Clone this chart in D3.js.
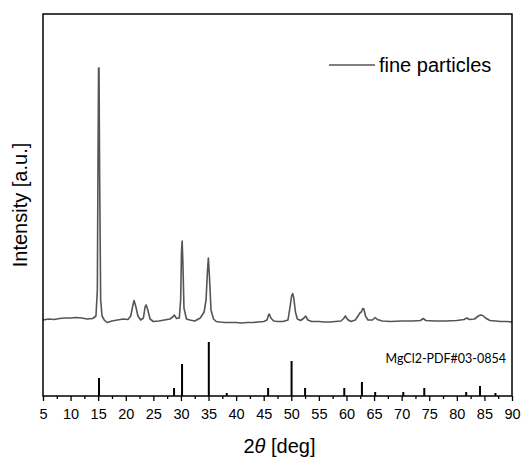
<!DOCTYPE html>
<html lang="en">
<head>
<meta charset="UTF-8">
<script src="https://cdn.jsdelivr.net/npm/d3@7"></script>
<title>XRD pattern</title>
<style>
  body { margin: 0; background: #fff; }
  svg { display: block; font-family: "Liberation Sans", Arial, sans-serif; }
</style>
</head>
<body>
<script>
// measured pattern (2theta, intensity in a.u.)
const patternTheta = [5, 6, 7, 8, 9, 10, 11, 12, 13, 14, 14.6, 14.85, 14.98, 15.07, 15.15, 15.27, 15.45, 15.7, 16.1, 16.6,
  17.5, 18.5, 19.5, 20.4, 20.9, 21.3, 21.5, 21.8, 22.2, 22.7, 23.2, 23.5, 23.7, 24.0, 24.4, 25, 26, 27, 28, 28.5,
  28.8, 29.2, 29.7, 29.95, 30.1, 30.22, 30.35, 30.55, 31, 31.6, 32.5, 33.5, 34.2, 34.55, 34.8, 34.97, 35.15, 35.45, 35.9, 36.4,
  37, 38, 39, 40, 41, 42, 43, 44, 45, 45.6, 45.85, 46.0, 46.3, 46.8, 47.5, 48.5, 49.4, 49.8, 50.05, 50.25,
  50.45, 50.75, 51.1, 51.7, 52.3, 52.6, 53.0, 53.7, 55, 56, 57, 58, 59, 59.5, 59.8, 60.2, 60.8, 61.6, 62.2, 62.5,
  62.7, 62.95, 63.15, 63.45, 63.9, 64.7, 65.2, 65.6, 66.5, 68, 70, 72, 73.4, 73.9, 74.4, 76, 78, 80, 81.3, 81.8,
  82.3, 83.2, 83.9, 84.3, 84.7, 85.2, 86, 87, 88, 89, 90];
const patternCounts = [76, 77, 76.5, 77.5, 78, 78, 78.5, 78, 77, 77.5, 80, 106, 246, 328, 328, 216, 96, 80, 76, 73.5,
  75, 76, 77, 76.5, 80, 91, 95.5, 90, 80, 76, 78, 89, 91, 86, 77, 74.5, 75, 76, 77, 79,
  81, 77.5, 78, 96, 144, 155, 134, 88, 77, 76, 75, 78, 84, 96, 124, 138, 121, 86, 77, 74.5,
  74, 73.5, 73.5, 73.5, 73, 73.5, 73.5, 74, 74.5, 76, 80.5, 82, 78, 75, 74.5, 74.5, 76, 90, 100, 102.5,
  98, 84, 77, 75.5, 78, 80, 76, 74.5, 74.5, 74, 74, 74.5, 75, 77.5, 80, 76.5, 74.5, 76, 81, 83.5,
  84, 87.5, 87, 80, 76, 76, 78.5, 76.5, 75, 74.5, 75, 75, 75.5, 77.5, 75.5, 75, 75, 75.5, 76.5, 78,
  76.5, 77, 80, 81, 80.5, 78, 75.5, 75, 74.5, 74.5, 74];

// MgCl2 reference lines
const refTheta = [15.15, 28.75, 30.2, 35.05, 38.3, 45.8, 50.05, 52.5, 59.6, 62.8, 65.2, 70.3, 74.1, 81.7, 84.2, 87.0];
const refIntensity = [18, 8, 32, 54, 3, 8, 35, 8, 8, 14, 4, 4, 8, 4, 10, 3];

const xTicks = [5, 10, 15, 20, 25, 30, 35, 40, 45, 50, 55, 60, 65, 70, 75, 80, 85, 90];

const W = 528, H = 457;
const m = { l: 43, r: 512, t: 14, b: 396 };

const svg = d3.select('body').append('svg')
  .attr('width', W)
  .attr('height', H);

const x = d3.scaleLinear().domain([5, 90]).range([m.l, m.r]);
const y = d3.scaleLinear().domain([0, 382]).range([m.b, m.t]);

// pattern line
const pts = patternTheta.map((t, i) => [t, patternCounts[i]]);
svg.append('path')
  .datum(pts)
  .attr('fill', 'none')
  .attr('stroke', '#555')
  .attr('stroke-width', 1.6)
  .attr('stroke-linejoin', 'round')
  .attr('d', d3.line().x(d => x(d[0])).y(d => y(d[1])));

// reference sticks
svg.selectAll('.stick')
  .data(refTheta)
  .enter()
  .append('line')
  .attr('class', 'stick')
  .attr('x1', d => x(d))
  .attr('x2', d => x(d))
  .attr('y1', y(0))
  .attr('y2', (d, i) => y(refIntensity[i]))
  .attr('stroke', '#000')
  .attr('stroke-width', 2);

// frame
svg.append('rect')
  .attr('x', m.l)
  .attr('y', m.t)
  .attr('width', m.r - m.l)
  .attr('height', m.b - m.t)
  .attr('fill', 'none')
  .attr('stroke', '#000')
  .attr('stroke-width', 1.5);

// x axis: minor ticks then major ticks with labels
const minor = xTicks.slice(0, -1).map(v => v + 2.5);
svg.append('g')
  .attr('transform', `translate(0,${m.b})`)
  .call(d3.axisBottom(x).tickValues(minor).tickSize(3).tickFormat(''))
  .call(g => g.select('.domain').remove())
  .call(g => g.selectAll('line').attr('stroke-width', 1.3));

svg.append('g')
  .attr('transform', `translate(0,${m.b})`)
  .call(d3.axisBottom(x).tickValues(xTicks).tickSize(5).tickPadding(8))
  .call(g => g.select('.domain').remove())
  .call(g => g.selectAll('line').attr('stroke-width', 1.3))
  .call(g => g.selectAll('text')
    .attr('font-size', 14.5)
    .attr('font-family', '"Liberation Sans", Arial, sans-serif')
    .attr('fill', '#000'));

// axis titles
const xt = svg.append('text')
  .attr('x', (m.l + m.r) / 2 + 2)
  .attr('y', 453)
  .attr('text-anchor', 'middle')
  .attr('font-size', 20)
  .attr('fill', '#000');
xt.append('tspan').text('2');
xt.append('tspan').attr('font-style', 'italic').text('θ');
xt.append('tspan').text(' [deg]');

svg.append('text')
  .attr('transform', `translate(27,${(m.t + m.b) / 2}) rotate(-90)`)
  .attr('text-anchor', 'middle')
  .attr('font-size', 20)
  .attr('fill', '#000')
  .text('Intensity [a.u.]');

// legend
svg.append('line')
  .attr('x1', 329).attr('x2', 375)
  .attr('y1', 65).attr('y2', 65)
  .attr('stroke', '#555')
  .attr('stroke-width', 1.6);
svg.append('text')
  .attr('x', 379)
  .attr('y', 72)
  .attr('font-size', 20)
  .attr('fill', '#000')
  .text('fine particles');

svg.append('text')
  .attr('x', 506)
  .attr('y', 363)
  .attr('text-anchor', 'end')
  .attr('font-size', 12.5)
  .attr('font-family', 'Lato, "Open Sans", sans-serif')
  .attr('fill', '#000')
  .text('MgCl2-PDF#03-0854');
</script>
</body>
</html>
